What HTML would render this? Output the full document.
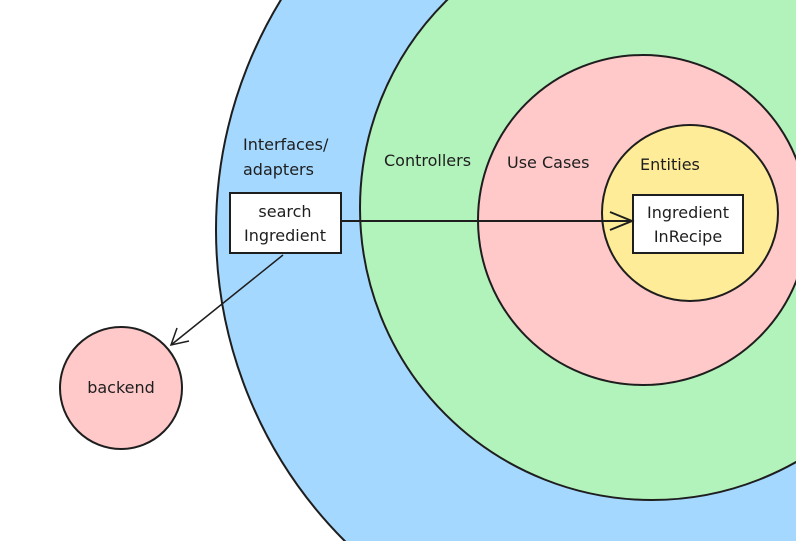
<!DOCTYPE html>
<html><head><style>
html,body{margin:0;padding:0;background:#fff;width:796px;height:541px;overflow:hidden}
svg{display:block}
text{font-family:"DejaVu Sans","Liberation Sans",sans-serif;font-size:16px;fill:#1e1e1e}
</style></head><body>
<svg width="796" height="541" viewBox="0 0 796 541">
<rect width="796" height="541" fill="#fff"/>
<circle cx="656" cy="230" r="440" fill="#a5d8ff" stroke="#1e1e1e" stroke-width="2"/>
<circle cx="652" cy="208" r="292" fill="#b2f2bb" stroke="#1e1e1e" stroke-width="2"/>
<circle cx="643" cy="220" r="165" fill="#ffc9c9" stroke="#1e1e1e" stroke-width="2"/>
<circle cx="690" cy="213" r="88" fill="#ffec99" stroke="#1e1e1e" stroke-width="2"/>
<circle cx="121" cy="388" r="61" fill="#ffc9c9" stroke="#1e1e1e" stroke-width="2"/>
<rect x="230" y="193" width="111" height="60" fill="#fff" stroke="#1e1e1e" stroke-width="2"/>
<rect x="633" y="195" width="110" height="58" fill="#fff" stroke="#1e1e1e" stroke-width="2"/>
<line x1="341" y1="221" x2="632" y2="221" stroke="#1e1e1e" stroke-width="2"/>
<polyline points="610,212 632,221 610,230" fill="none" stroke="#1e1e1e" stroke-width="2"/>
<line x1="283" y1="255" x2="171" y2="345" stroke="#1e1e1e" stroke-width="1.5"/>
<polyline points="177,328 171,345 189,341" fill="none" stroke="#1e1e1e" stroke-width="1.5"/>
<text x="243" y="150">Interfaces/</text>
<text x="243" y="175">adapters</text>
<text x="384" y="166">Controllers</text>
<text x="507" y="168">Use Cases</text>
<text x="640" y="170">Entities</text>
<text x="285" y="217" text-anchor="middle">search</text>
<text x="285" y="241" text-anchor="middle">Ingredient</text>
<text x="688" y="218" text-anchor="middle">Ingredient</text>
<text x="688" y="242" text-anchor="middle">InRecipe</text>
<text x="121" y="393" text-anchor="middle">backend</text>
</svg>
</body></html>
